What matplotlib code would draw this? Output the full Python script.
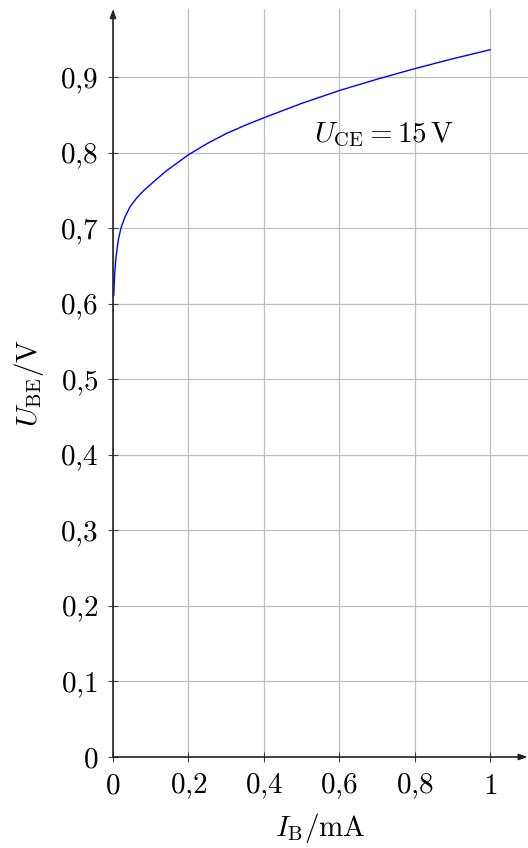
import matplotlib
matplotlib.use("Agg")
import matplotlib.pyplot as plt

# input characteristic
i_b = [0.002, 0.0045, 0.008, 0.014, 0.021, 0.032, 0.045, 0.063, 0.080, 0.107,
       0.142, 0.2, 0.25, 0.3, 0.35, 0.4, 0.5, 0.6, 0.7, 0.8, 0.9, 1.0]
u_be = [0.611, 0.640, 0.662, 0.684, 0.700, 0.715, 0.728, 0.740, 0.749, 0.761,
        0.776, 0.797, 0.812, 0.825, 0.836, 0.846, 0.865, 0.882, 0.897, 0.911,
        0.924, 0.936]

x_ticks = [0, 0.2, 0.4, 0.6, 0.8, 1]
x_labels = ["0", "0,2", "0,4", "0,6", "0,8", "1"]
y_ticks = [0, 0.1, 0.2, 0.3, 0.4, 0.5, 0.6, 0.7, 0.8, 0.9]
y_labels = ["0", "0,1", "0,2", "0,3", "0,4", "0,5", "0,6", "0,7", "0,8", "0,9"]

plt.rcParams["mathtext.fontset"] = "cm"
plt.rcParams["font.family"] = "serif"
plt.rcParams["font.serif"] = ["DejaVu Serif"]

W, H = 528, 848
fig = plt.figure(figsize=(W / 100, H / 100), dpi=100)
x0, x1 = 113, 527.7
y0, y1 = 757, 9
ax = fig.add_axes([x0 / W, 1 - y0 / H, (x1 - x0) / W, (y0 - y1) / H])
ax.set_xlim(0, 1.1)
ax.set_ylim(0, 0.99)

ax.grid(True, color="#bfbfbf", linewidth=0.9)
ax.set_axisbelow(True)

ax.plot(i_b, u_be, color="blue", linewidth=1.0)

for s in ["top", "right", "left", "bottom"]:
    ax.spines[s].set_visible(False)

# axis lines with arrow heads
arrow = dict(arrowstyle="-|>,head_length=0.5,head_width=0.18", color="#222222",
             linewidth=1.2, shrinkA=0, shrinkB=0)
ax.annotate("", xy=(1.0, 0), xytext=(0, 0), xycoords="axes fraction",
            textcoords="axes fraction", arrowprops=arrow)
ax.annotate("", xy=(0, 1.0), xytext=(0, 0), xycoords="axes fraction",
            textcoords="axes fraction", arrowprops=arrow)

ax.set_xticks(x_ticks)
ax.set_xticklabels(["$" + t.replace(",", "{,}") + "$" for t in x_labels])
ax.set_yticks(y_ticks)
ax.set_yticklabels(["$" + t.replace(",", "{,}") + "$" for t in y_labels])
ax.tick_params(direction="inout", length=7, width=0.8, color="#444444",
               labelsize=21)
ax.tick_params(axis="x", pad=7)
ax.tick_params(axis="y", pad=7)

ax.set_xlabel(r"$I_\mathrm{B}/\mathrm{mA}$", fontsize=21, labelpad=7)
ax.set_ylabel(r"$U_\mathrm{BE}/\mathrm{V}$", fontsize=21, labelpad=10)

ax.text(0.72, 0.823, r"$U_\mathrm{CE} = 15\,\mathrm{V}$", fontsize=21,
        ha="center", va="center")

fig.savefig("out.png", dpi=100)
